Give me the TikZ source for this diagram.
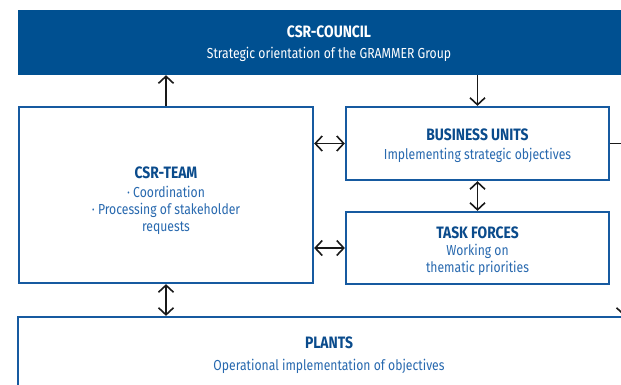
\documentclass[tikz,border=0pt]{standalone}
\usepackage{fontspec}
\setmainfont{Fira Sans}[FakeStretch=0.84]
\usetikzlibrary{arrows.meta}

\definecolor{csrblue}{RGB}{0,80,145}
\definecolor{csrframe}{RGB}{22,90,160}
\definecolor{csrhead}{RGB}{10,75,140}
\definecolor{csrtext}{RGB}{40,105,175}

\tikzset{
  unitbox/.style={draw=csrframe,line width=2.3pt,fill=white,align=center,text=csrtext,inner sep=0pt},
  councilbox/.style={fill=csrblue,align=center,text=white,inner sep=0pt},
  link/.style={line width=1.6pt,draw=black!90,-{Straight Barb[length=7pt,width=15pt]}},
  twolink/.style={link,{Straight Barb[length=7pt,width=15pt]}-{Straight Barb[length=7pt,width=15pt]}}
}
% #1 lifts the first line down a little
\newcommand{\boxhead}[2][10pt]{\rule{0pt}{#1}{\fontsize{16.5}{17}\selectfont\bfseries\color{csrhead}#2}}

\begin{document}
\begin{tikzpicture}[x=1pt,y=-1pt,font=\fontsize{14.5}{17}\selectfont]
  \useasboundingbox (0,0) rectangle (621,384);

  % Boxes
  \node[councilbox,minimum width=622pt,minimum height=65pt] (council) at (329,42.5)
    {\rule{0pt}{14pt}{\fontsize{16.5}{17}\selectfont\bfseries CSR-COUNCIL}\\[4pt] Strategic orientation of the GRAMMER Group};
  \node[unitbox,minimum width=294pt,minimum height=176pt] (team) at (166,195)
    {\boxhead[24pt]{CSR-TEAM}\\[2pt] · Coordination\\ · Processing of stakeholder\\ requests};
  \node[unitbox,minimum width=263pt,minimum height=73pt] (bu) at (477.5,143.5)
    {\boxhead[16pt]{BUSINESS UNITS}\\[2pt] Implementing strategic objectives};
  \node[unitbox,minimum width=263pt,minimum height=72pt] (tf) at (477.5,248)
    {\boxhead[18pt]{TASK FORCES}\\ Working on\\ thematic priorities};
  \node[unitbox,minimum width=622pt,minimum height=75pt] (plants) at (329,354.5)
    {\boxhead[14pt]{PLANTS}\\[5pt] Operational implementation of objectives};

  % Arrows
  \draw[link] (team.north) -- (team.north |- council.south);
  \draw[link] (council.south -| bu.north) -- (bu.north);
  \draw[twolink] (team.east |- bu.west) -- (bu.west);
  \draw[twolink] (team.east |- tf.west) -- (tf.west);
  \draw[twolink] (bu.south) -- (tf.north);
  \draw[twolink] (team.south) -- (team.south |- plants.north);
  \coordinate (turn) at (624,143.5);
  \draw[link] (bu.east) -- (turn) -- (turn |- plants.north);
\end{tikzpicture}
\end{document}
